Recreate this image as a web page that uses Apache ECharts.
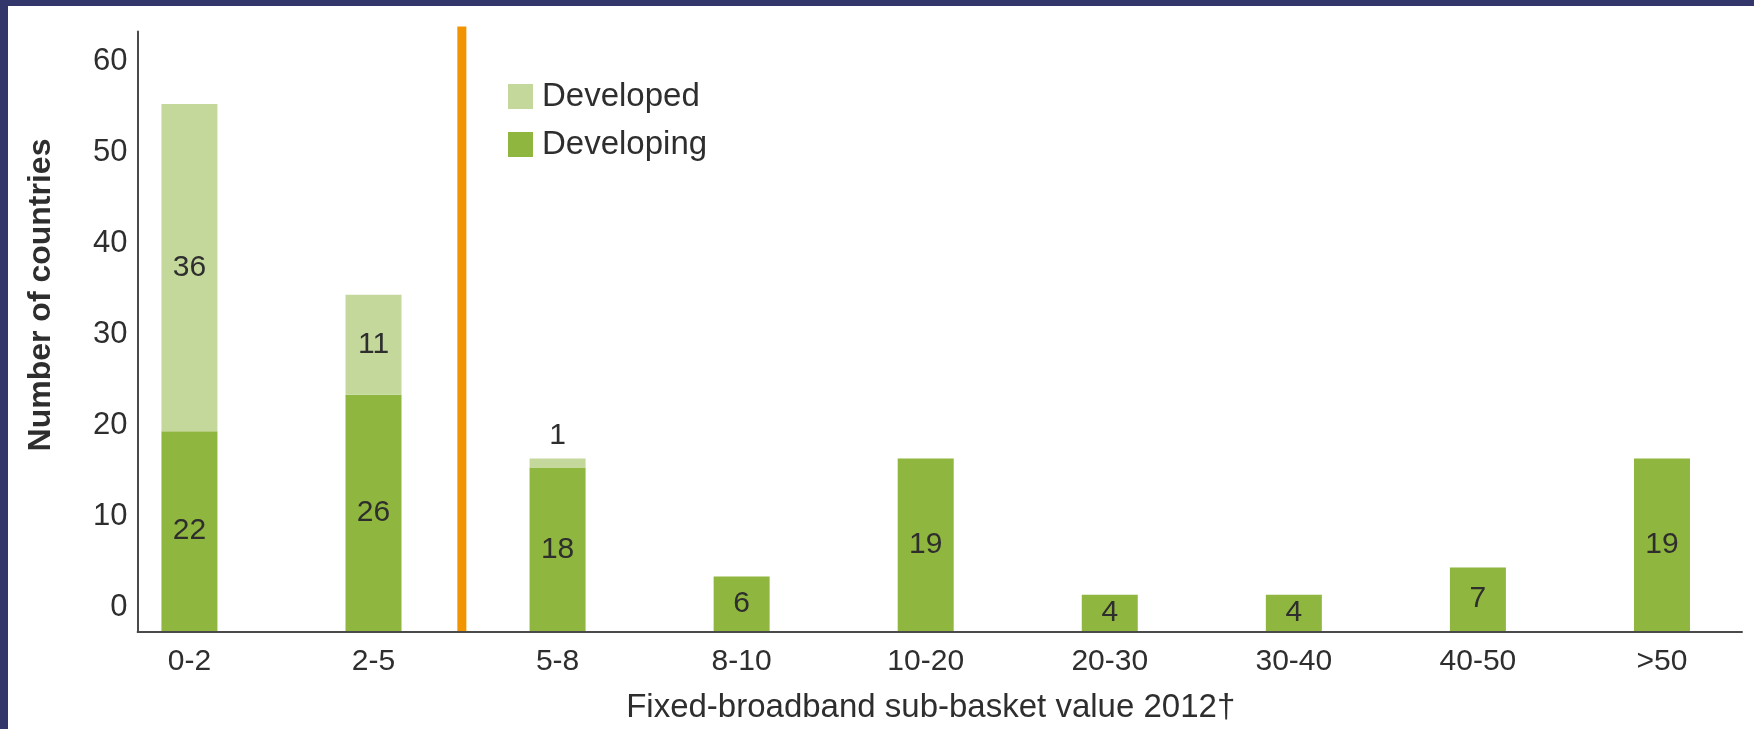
<!DOCTYPE html>
<html>
<head>
<meta charset="utf-8">
<script src="https://cdn.jsdelivr.net/npm/echarts@6/dist/echarts.min.js"></script>
<style>
  html, body { margin: 0; padding: 0; background: #ffffff; overflow: hidden; }
  #chart { position: absolute; left: 0; top: 0; width: 1754px; height: 729px; }
  .frame { position: absolute; background: #33366a; pointer-events: none; }
</style>
</head>
<body>
<div id="chart"></div>
<div class="frame" style="left:0;top:0;width:1754px;height:6px"></div>
<div class="frame" style="left:0;top:0;width:8px;height:729px"></div>
<script>
// Price bands of the fixed-broadband sub-basket (2012)
const categories = ['0-2', '2-5', '5-8', '8-10', '10-20', '20-30', '30-40', '40-50', '>50'];
// Number of countries in each band
const developing = [22, 26, 18, 6, 19, 4, 4, 7, 19];
const developed  = [36, 11, 1, 0, 0, 0, 0, 0, 0];
// Value axis range and step
const yMin = 0, yMax = 66, yStep = 10;
// Divider drawn between the "2-5" and "5-8" bands (position in category units)
const dividerAt = 1.48;

const FONT = "'Liberation Sans', Arial, sans-serif";
const TEXT = '#2e2e2e';
const DARK = '#8fb63e';
const LIGHT = '#c5d89b';
const AXIS = '#4a4a4a';

const chart = echarts.init(document.getElementById('chart'), null, { renderer: 'canvas' });

const option = {
  backgroundColor: '#ffffff',
  animation: false,
  textStyle: { fontFamily: FONT },
  legend: {
    orient: 'vertical',
    left: 503,
    top: 75,
    itemWidth: 25,
    itemHeight: 25,
    itemGap: 15,
    icon: 'rect',
    data: ['Developed', 'Developing'],
    textStyle: {
      fontFamily: FONT, fontSize: 33, color: TEXT,
      lineHeight: 25, padding: [0, 0, 0, 4]
    }
  },
  grid: [
    // grid holding the bars (one band per category)
    { left: 97.4, width: 1667, top: 31.4, bottom: 97, containLabel: false },
    // grid carrying the visible axis lines and value ticks
    { left: 137.6, right: 12, top: 31.4, bottom: 97, containLabel: false }
  ],
  xAxis: [
    {
      type: 'category', gridIndex: 0, data: categories,
      axisLine: { show: false }, axisTick: { show: false },
      axisLabel: { fontFamily: FONT, fontSize: 30, color: TEXT, margin: 16 },
      name: 'Fixed-broadband sub-basket value 2012\u2020',
      nameLocation: 'middle', nameGap: 60,
      nameTextStyle: { fontFamily: FONT, fontSize: 33, color: TEXT, padding: [0, 0, 0, 10] }
    },
    {
      type: 'value', gridIndex: 1, min: 0, max: 1,
      axisLine: { show: true, onZero: false, lineStyle: { color: AXIS, width: 2 } },
      axisTick: { show: false }, axisLabel: { show: false }, splitLine: { show: false }
    }
  ],
  yAxis: [
    {
      type: 'value', gridIndex: 0, min: yMin, max: yMax, interval: yStep,
      axisLine: { show: false }, axisTick: { show: false },
      axisLabel: { show: false }, splitLine: { show: false }
    },
    {
      type: 'value', gridIndex: 1, min: yMin, max: yMax, interval: yStep,
      axisLine: { show: true, lineStyle: { color: AXIS, width: 2 } },
      axisTick: { show: false }, splitLine: { show: false },
      axisLabel: {
        fontFamily: FONT, fontSize: 31, color: TEXT, margin: 10,
        showMaxLabel: false, verticalAlign: 'bottom', lineHeight: 50,
        formatter: v => (v % yStep === 0 ? String(v) : '')
      }
    }
  ],
  series: [
    {
      name: 'Developing', type: 'bar', stack: 'countries',
      xAxisIndex: 0, yAxisIndex: 0, barWidth: 56,
      itemStyle: { color: DARK },
      label: { show: true, position: 'inside', fontFamily: FONT, fontSize: 30, color: TEXT },
      data: developing
    },
    {
      name: 'Developed', type: 'bar', stack: 'countries',
      xAxisIndex: 0, yAxisIndex: 0, barWidth: 56,
      itemStyle: { color: LIGHT },
      label: { show: true, position: 'inside', distance: 8, fontFamily: FONT, fontSize: 30, color: TEXT },
      data: developed.map(v => v > 0
        ? { value: v, label: { position: v < 3 ? 'top' : 'inside' } }
        : null)
    }
  ]
};

chart.setOption(option);

// Divider line and the rotated value-axis title
const pA = chart.convertToPixel({ xAxisIndex: 0 }, categories[1]);
const pB = chart.convertToPixel({ xAxisIndex: 0 }, categories[2]);
const divX = pA + (pB - pA) * (dividerAt - 1);
const baseY = chart.convertToPixel({ yAxisIndex: 0 }, yMin);
const topY = chart.convertToPixel({ yAxisIndex: 0 }, yMax) - 5;

chart.setOption({
  graphic: [
    {
      type: 'rect', z: 10,
      shape: { x: divX - 4.5, y: topY, width: 9, height: baseY - topY },
      style: { fill: '#f29400' }
    },
    {
      type: 'text', z: 10,
      x: 41, y: 295, rotation: Math.PI / 2,
      style: {
        text: 'Number of countries', fontFamily: FONT, fontSize: 32, fontWeight: 'bold',
        fill: TEXT, align: 'center', verticalAlign: 'middle'
      }
    }
  ]
});
</script>
</body>
</html>
